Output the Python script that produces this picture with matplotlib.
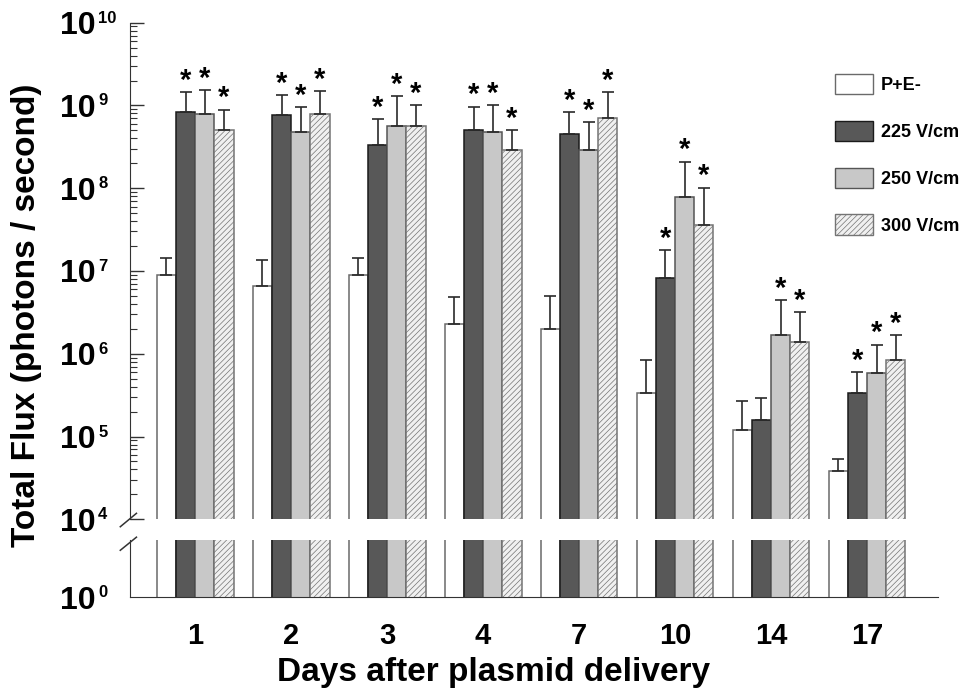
import matplotlib
matplotlib.use('Agg')
import matplotlib.pyplot as plt
import matplotlib.patches as mpatches
import numpy as np

plt.rcParams['font.family'] = ['Liberation Sans', 'DejaVu Sans']
plt.rcParams['font.weight'] = 'bold'
plt.rcParams['hatch.linewidth'] = 0.5

days = ['1', '2', '3', '4', '7', '10', '14', '17']
series_labels = ['P+E-', '225 V/cm', '250 V/cm', '300 V/cm']

# mean total flux (photons / second)
flux_ctrl = [8.9e6, 6.6e6, 8.9e6, 2.3e6, 2.0e6, 3.4e5, 1.2e5, 3.8e4]
flux_225 = [8.3e8, 7.6e8, 3.3e8, 5.0e8, 4.5e8, 8.3e6, 1.58e5, 3.4e5]
flux_250 = [7.8e8, 4.8e8, 5.6e8, 4.8e8, 2.9e8, 7.9e7, 1.7e6, 5.9e5]
flux_300 = [5.1e8, 7.9e8, 5.6e8, 2.9e8, 7.0e8, 3.6e7, 1.4e6, 8.3e5]

# upper error (SEM)
err_ctrl = [5.3e6, 6.9e6, 5.3e6, 2.6e6, 3.0e6, 5.1e5, 1.5e5, 1.5e4]
err_225 = [6.1e8, 5.9e8, 3.6e8, 4.7e8, 3.8e8, 9.6e6, 1.3e5, 2.6e5]
err_250 = [7.7e8, 4.7e8, 7.3e8, 5.4e8, 3.4e8, 1.31e8, 2.8e6, 7.0e5]
err_300 = [3.8e8, 6.9e8, 4.6e8, 2.1e8, 7.5e8, 6.6e7, 1.8e6, 8.7e5]

# significance markers
sig_ctrl = [False] * 8
sig_225 = [True, True, True, True, True, True, False, True]
sig_250 = [True] * 8
sig_300 = [True] * 8

series = [
    (flux_ctrl, err_ctrl, sig_ctrl, dict(color='white', edgecolor='#6a6a6a', hatch=None)),
    (flux_225, err_225, sig_225, dict(color='#585858', edgecolor='#1a1a1a', hatch=None)),
    (flux_250, err_250, sig_250, dict(color='#c8c8c8', edgecolor='#555555', hatch=None)),
    (flux_300, err_300, sig_300, dict(color='#f0f0f0', edgecolor='#747474', hatch='//////')),
]

fig = plt.figure(figsize=(9.65, 6.96), dpi=100)
ax = fig.add_axes([0.1347, 0.2539, 0.972 - 0.1347, 0.9674 - 0.2539])
axb = fig.add_axes([0.1347, 0.1422, 0.972 - 0.1347, 0.2241 - 0.1422])

x = np.arange(len(days))
w = 0.2
offsets = [-1.5 * w, -0.5 * w, 0.5 * w, 1.5 * w]

handles = []
for (vals, errs, sigs, st), off, lab in zip(series, offsets, series_labels):
    for a in (ax, axb):
        a.bar(x + off, vals, w, bottom=1e-2, color=st['color'], edgecolor=st['edgecolor'],
              hatch=st['hatch'], linewidth=1.1)
    ax.errorbar(x + off, vals, yerr=[np.zeros(len(errs)), errs], fmt='none',
                ecolor='#2a2a2a', elinewidth=1.2, capsize=4, capthick=1.2)
    for xi, v, e, s in zip(x + off, vals, errs, sigs):
        if s:
            ax.annotate('*', (xi, v + e), xytext=(0, -2), textcoords='offset points',
                        ha='center', va='bottom', fontsize=21, fontweight='bold')
    handles.append(mpatches.Patch(facecolor=st['color'], edgecolor=st['edgecolor'],
                                  hatch=st['hatch'], linewidth=1.0, label=lab))

xlim = (-0.68, 7.74)


def power_labels(a, ticks):
    # "10" as the tick label, exponent as a small raised text
    a.set_yticks(ticks)
    a.set_yticklabels(['10'] * len(ticks))
    for t in ticks:
        a.annotate('%d' % int(round(np.log10(t))), (0, t), xycoords=('axes fraction', 'data'),
                   xytext=(-23, 0), textcoords='offset points', ha='left', va='baseline',
                   fontsize=12, fontweight='bold', annotation_clip=False)


ax.set_yscale('log')
ax.set_ylim(1e4, 1e10)
ax.set_xlim(*xlim)
for s in ('top', 'right', 'bottom'):
    ax.spines[s].set_visible(False)
ax.spines['left'].set_color('#333333')
ax.set_xticks([])
power_labels(ax, [1e4, 1e5, 1e6, 1e7, 1e8, 1e9, 1e10])
ax.tick_params(axis='y', which='major', direction='in', length=10, width=1.0,
               labelsize=23, pad=25, color='#333333')
ax.tick_params(axis='y', which='minor', direction='in', length=5, width=0.8, color='#333333')

axb.set_yscale('log')
axb.set_ylim(1, 1.6)
axb.set_xlim(*xlim)
axb.spines['top'].set_visible(False)
axb.spines['right'].set_visible(False)
axb.spines['left'].set_color('#333333')
axb.spines['bottom'].set_color('#333333')
power_labels(axb, [1])
axb.yaxis.set_minor_locator(matplotlib.ticker.NullLocator())
axb.tick_params(axis='y', which='major', length=0, labelsize=23, pad=25)
axb.set_xticks(x)
axb.set_xticklabels(days)
axb.tick_params(axis='x', length=0, labelsize=21, pad=18)

fig.text(494 / 965, 1 - 673 / 696, 'Days after plasmid delivery', fontsize=24,
         fontweight='bold', ha='center', va='center')
fig.text(0.027, 0.547, 'Total Flux (photons / second)', rotation=90, fontsize=24,
         fontweight='bold', ha='center', va='center')

# break marks
kw = dict(color='#333333', lw=1.1, clip_on=False)
ax.plot([-0.012, 0.008], [-0.015, 0.012], transform=ax.transAxes, **kw)
axb.plot([-0.012, 0.008], [0.82, 1.05], transform=axb.transAxes, **kw)

fig.legend(handles=handles, loc='upper left', bbox_to_anchor=(835 / 965, 1 - 74 / 696),
           frameon=False, handlelength=2.1, handleheight=1.35,
           labelspacing=1.47, handletextpad=0.45, borderpad=0, borderaxespad=0,
           prop={'weight': 'bold', 'size': 13})

fig.savefig('out.png', dpi=100)
